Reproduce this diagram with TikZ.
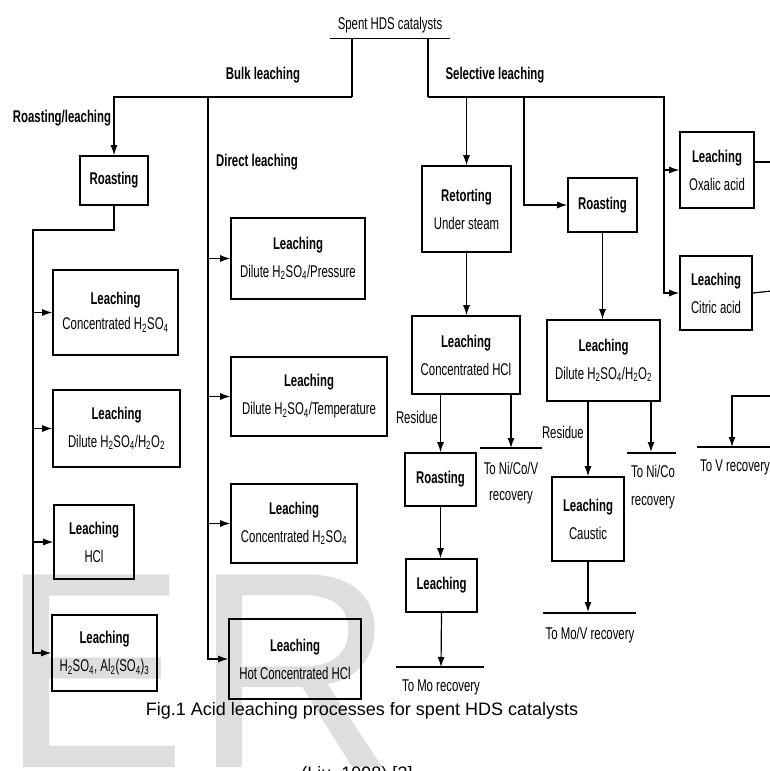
\documentclass[tikz,border=0pt]{standalone}
\usepackage{fontspec}
\setmainfont[FakeStretch=0.67]{Liberation Sans}
\newfontfamily\capfont{Liberation Sans}
\newfontfamily\wmfont{Liberation Sans}
\usetikzlibrary{arrows.meta}
\begin{document}
\begin{tikzpicture}[x=1pt,y=-1pt,
  box/.style={draw, line width=1.6pt, inner sep=0pt, align=center, font=\fontsize{17}{28}\selectfont},
  lbl/.style={font=\bfseries\fontsize{17}{20}\selectfont, inner sep=0pt},
  txt/.style={font=\fontsize{17}{26}\selectfont, inner sep=0pt, align=center},
  conn/.style={line width=1.2pt},
  arr/.style={line width=1.2pt, -{Latex[length=10pt,width=7pt]}},
  wm/.style={anchor=base west, inner sep=0pt, font=\wmfont\fontsize{280}{280}\selectfont, text=black, text opacity=0.13}]
\useasboundingbox (0,0) rectangle (770,771);
\clip (0,0) rectangle (770,771);

% ---------- top ----------
\node[txt, minimum width=120pt, minimum height=26pt] (spent) at (390,25) {Spent HDS catalysts};
\draw[conn] (spent.south west) -- (spent.south east);
\coordinate (bk) at (352,97);
\coordinate (sl) at (428,97);
\coordinate (dl) at (208,97);
\coordinate (rr) at (524,97);
\coordinate (sv) at (664,97);
\node[lbl] (bulk) at (263,75) {Bulk leaching};
\node[lbl] (sel) at (495,75) {Selective leaching};
\node[lbl] (rlab) at (62,118) {Roasting/leaching};
\node[lbl] (dlab) at (257,162) {Direct leaching};

% ---------- left column ----------
\node[box, minimum width=68pt, minimum height=49pt] (roast1) at (114,180.5) {\textbf{Roasting}};
\node[box, minimum width=125pt, minimum height=85pt, font=\fontsize{17}{25}\selectfont] (L1) at (115.5,312.5) {\textbf{Leaching}\\Concentrated H\textsubscript{2}SO\textsubscript{4}};
\node[box, minimum width=127pt, minimum height=77pt] (L2) at (116.5,428.5) {\textbf{Leaching}\\Dilute H\textsubscript{2}SO\textsubscript{4}/H\textsubscript{2}O\textsubscript{2}};
\node[box, minimum width=80pt, minimum height=74pt] (L3) at (94,542) {\textbf{Leaching}\\HCl};
\node[box, minimum width=105pt, minimum height=76pt] (L4) at (104.5,653) {\textbf{Leaching}\\H\textsubscript{2}SO\textsubscript{4}, Al\textsubscript{2}(SO\textsubscript{4})\textsubscript{3}};

\draw[conn] (spent.south -| bk) -- (bk);
\draw[arr] (bk) -| (roast1.north);
\coordinate (lt) at (33,230);
\draw[arr] (roast1.south) |- (lt) |- (L4.west);
\draw[arr] (L1.west -| lt) -- (L1.west);
\draw[arr] (L2.west -| lt) -- (L2.west);
\draw[arr] (L3.west -| lt) -- (L3.west);

% ---------- middle column ----------
\node[box, minimum width=134pt, minimum height=81pt] (M1) at (298,258.5) {\textbf{Leaching}\\Dilute H\textsubscript{2}SO\textsubscript{4}/Pressure};
\node[box, minimum width=156pt, minimum height=79pt] (M2) at (309,396.5) {\textbf{Leaching}\\Dilute H\textsubscript{2}SO\textsubscript{4}/Temperature};
\node[box, minimum width=126pt, minimum height=79pt] (M3) at (294,523.5) {\textbf{Leaching}\\Concentrated H\textsubscript{2}SO\textsubscript{4}};
\node[box, minimum width=132pt, minimum height=80pt] (M4) at (295,659) {\textbf{Leaching}\\Hot Concentrated HCl};
\draw[arr] (dl) |- (M4.west);
\draw[arr] (M1.west -| dl) -- (M1.west);
\draw[arr] (M2.west -| dl) -- (M2.west);
\draw[arr] (M3.west -| dl) -- (M3.west);

% ---------- selective ----------
\node[box, minimum width=89pt, minimum height=86pt] (retort) at (466.5,209) {\textbf{Retorting}\\Under steam};
\node[box, minimum width=69pt, minimum height=54pt] (roast2) at (602.5,205) {\textbf{Roasting}};
\node[box, minimum width=74pt, minimum height=76pt] (oxalic) at (717,170) {\textbf{Leaching}\\Oxalic acid};
\node[box, minimum width=72pt, minimum height=74pt] (citric) at (716,293) {\textbf{Leaching}\\Citric acid};
\node[box, minimum width=108pt, minimum height=78pt] (chcl) at (466,355) {\textbf{Leaching}\\Concentrated HCl};
\node[box, minimum width=113pt, minimum height=81pt] (dil2) at (603.5,360.5) {\textbf{Leaching}\\Dilute H\textsubscript{2}SO\textsubscript{4}/H\textsubscript{2}O\textsubscript{2}};
\node[box, minimum width=71pt, minimum height=53pt] (roast3) at (440.5,479.5) {\textbf{Roasting}};
\node[box, minimum width=71pt, minimum height=53pt] (leach5) at (441.5,585.5) {\textbf{Leaching}};
\node[box, minimum width=72pt, minimum height=84pt] (caustic) at (588,519) {\textbf{Leaching}\\Caustic};

\draw[conn] (spent.south -| sl) -- (sl);
\draw[arr] (sl) -- (sv) |- (citric.west);
\draw[arr] (oxalic.west -| sv) -- (oxalic.west);
\draw[arr] (retort.north |- sl) -- (retort.north);
\draw[arr] (rr) |- (roast2.west);
\draw[arr] (retort.south) -- (chcl.north -| retort.south);
\draw[arr] (roast2.south) -- (dil2.north -| roast2.south);

% right edge
\coordinate (oxr) at (790,162);
\coordinate (cir) at (790,289);
\coordinate (vin) at (790,396);
\coordinate (vr) at (732,447);
\coordinate (vl0) at (697,447);
\coordinate (vl1) at (790,447);
\draw[conn] ([yshift=8pt]oxalic.east) -- (oxr);
\draw[conn] (citric.east) -- (cir);
\draw[arr] (vin) -| (vr);
\draw[conn] (vl0) -- (vl1);
\node[txt] (vrec) at (735,467) {To V recovery};

% Concentrated HCl outputs
\coordinate (r1a) at (480,448);
\coordinate (r1b) at (542,448);
\coordinate (r1x) at (511,448);
\draw[arr] (roast3.north |- chcl.south) -- (roast3.north);
\node[txt, anchor=east] (res1) at (438,417) {Residue};
\draw[arr] (chcl.south -| r1x) -- (r1x);
\draw[conn] (r1a) -- (r1b);
\node[txt] (nicov) at (511,483) {To Ni/Co/V\\recovery};
\draw[arr] (roast3.south) -- (leach5.north -| roast3.south);
\coordinate (mo) at (441,667);
\coordinate (mo0) at (396,667);
\coordinate (mo1) at (484,667);
\draw[arr] (leach5.south) -- (mo);
\draw[conn] (mo0) -- (mo1);
\node[txt] (torec) at (441,687) {To Mo recovery};

% Dilute H2SO4/H2O2 outputs
\draw[arr] (caustic.north |- dil2.south) -- (caustic.north);
\node[txt, anchor=east] (res2) at (584,432) {Residue};
\coordinate (r2x) at (651,452);
\coordinate (r2a) at (627,453);
\coordinate (r2b) at (676,453);
\draw[arr] (dil2.south -| r2x) -- (r2x);
\draw[conn] (r2a) -- (r2b);
\node[txt, font=\fontsize{17}{28}\selectfont] (nico) at (653,487) {To Ni/Co\\recovery};
\coordinate (mv) at (588,612);
\coordinate (mv0) at (543,613);
\coordinate (mv1) at (636,613);
\draw[arr] (caustic.south) -- (mv);
\draw[conn] (mv0) -- (mv1);
\node[txt] (movrec) at (590,635) {To Mo/V recovery};

% ---------- caption ----------
\node[inner sep=0pt, font=\capfont\fontsize{18}{22}\selectfont] (cap) at (362,711) {Fig.1 Acid leaching processes for spent HDS catalysts};
\node[inner sep=0pt, anchor=base, font=\capfont\fontsize{18}{22}\selectfont] (cap2) at (357,779) {(Liu, 1998) [3]};

% ---------- watermark ----------
\node[wm] (wE) at (0,767) {E};
\node[wm] (wR) at (193,767) {R};
\end{tikzpicture}
\end{document}
